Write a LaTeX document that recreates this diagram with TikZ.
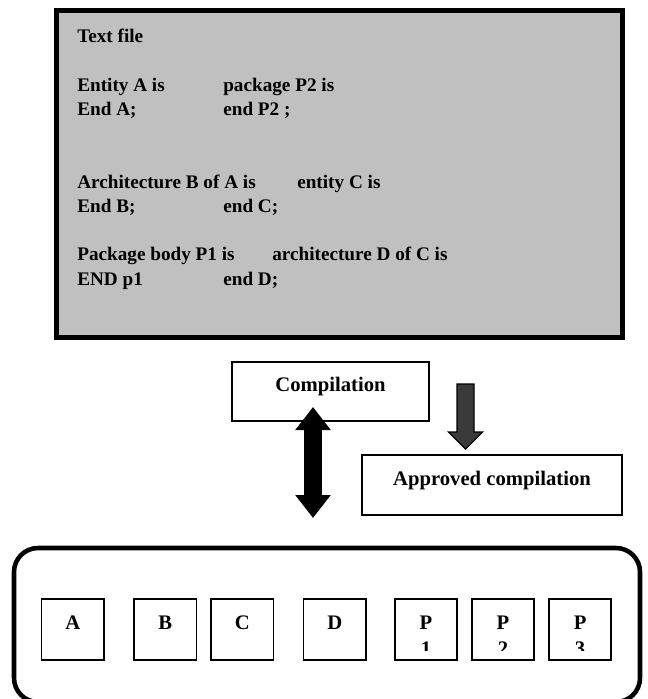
\documentclass[tikz,border=0pt]{standalone}
\usepackage{fontspec}
\setmainfont{Liberation Serif}
\usepackage{tikz}
\usetikzlibrary{arrows.meta,positioning}
\definecolor{filegray}{HTML}{C0C0C0}
\definecolor{arrowgray}{HTML}{3A3A3A}
\newcommand{\codecol}[2]{\makebox[#1][l]{#2}}

\begin{document}
\begin{tikzpicture}[
  x=0.75pt, y=-0.75pt,
  node distance=22.5pt,
  filebox/.style={draw, line width=3.4pt, fill=filegray, minimum width=424.5pt, minimum height=245.25pt, outer sep=0pt},
  code/.style={align=left, inner sep=0pt, font=\fontsize{14.4}{18.2}\selectfont\bfseries},
  stage/.style={draw, line width=1.3pt, font=\fontsize{15.5}{18}\selectfont\bfseries, text height=10.5pt, text depth=10.5pt, inner sep=0pt, outer sep=0pt},
  lib/.style={draw, line width=3.4pt, rounded corners=18pt, minimum width=469.5pt, minimum height=115.5pt},
  unit/.style={stage, minimum width=46.9pt, minimum height=45.75pt},
  pkg/.style={unit, path picture={
    \clip ([yshift=7.5pt]path picture bounding box.south west) rectangle (path picture bounding box.north east);
    \node[font=\fontsize{15.5}{18}\selectfont\bfseries, anchor=base] at ([yshift=-19.5pt]path picture bounding box.center) {#1};}},
  fat/.style={line width=13.5pt, {Triangle[width=25.5pt,length=17.25pt]}-{Triangle[width=25.5pt,length=17.25pt]}}]
  \useasboundingbox (0,0) rectangle (647,699);
  % source text file
  \node[filebox] (file) at (339.5,174) {};
  \node[code, anchor=north west] (src) at ([xshift=15.4pt,yshift=-13.7pt]file.north west) {Text file\\[18.2pt]
    \codecol{109.5pt}{Entity A is}package P2 is\\
    \codecol{109.5pt}{End A;}end P2 ;\\[36.4pt]
    \codecol{165pt}{Architecture B of A is}entity C is\\
    \codecol{109.5pt}{End B;}end C;\\[18.2pt]
    \codecol{146.25pt}{Package body P1 is}architecture D of C is\\
    \codecol{109.5pt}{END p1}end D;};
  % compilation steps
  \node[stage, minimum width=147.75pt, minimum height=44.25pt] (comp) at (330.5,391.5) {Compilation};
  \node[stage, minimum width=195pt, minimum height=45pt] (ok) at (492,485) {Approved compilation};
  \coordinate (cup) at (313,407);
  \coordinate (cdn) at (313,518);
  \draw[fat] (cdn) -- (cup);
  \coordinate (g) at (465.5,384);
  \draw[line width=0.8pt, fill=arrowgray, line join=miter] (g) ++(-8.5,0) -- ++(0,48) -- ++(-8.5,0) -- ++(17,17) -- ++(17,-17) -- ++(-8.5,0) -- ++(0,-48) -- cycle;
  % library units
  \node[lib] (lib) at (327,625) {};
  \node[unit] (a) at (72.75,629.5) {A};
  \node[unit, right=of a] (b) {B};
  \node[unit, right=10.9pt of b] (c) {C};
  \node[unit, right=of c] (d) {D};
  \node[pkg=1, right=21.4pt of d] (p1) {P};
  \node[pkg=2, right=10.9pt of p1] (p2) {P};
  \node[pkg=3, right=10.9pt of p2] (p3) {P};
\end{tikzpicture}
\end{document}
